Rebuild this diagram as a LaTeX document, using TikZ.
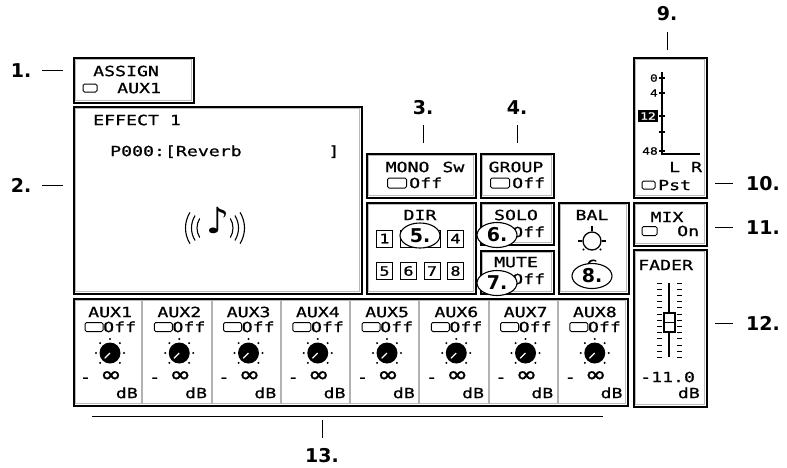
\documentclass[tikz,border=0pt]{standalone}
\usepackage{fontspec}
\usetikzlibrary{shapes.geometric}
\newfontfamily\lcdf[FakeStretch=1.3,FakeBold=0.8]{DejaVu Sans Mono}
\newfontfamily\labf{DejaVu Sans}
\newfontfamily\symf{DejaVu Sans}
\newcommand\lcdbox[5]{\node[box, minimum width=#4pt, minimum height=#5pt] (#1) at (#2,#3) {};}
\newcommand\swq[5]{\node[swq, minimum width=#4pt, minimum height=#5pt] (#1) at (#2,#3) {};}
\begin{document}
\begin{tikzpicture}[x=1pt,y=-1pt,
  box/.style={draw=black, line width=1.6pt, fill=white, anchor=north west, inner sep=0pt,
    path picture={\draw[gray!55, line width=1pt]
      ([shift={(2.1pt,-2.1pt)}]path picture bounding box.north west) rectangle
      ([shift={(-2.1pt,2.1pt)}]path picture bounding box.south east);}},
  txt/.style={font=\lcdf\fontsize{14}{14}\selectfont, inner sep=0pt, text height=10.2pt, text depth=0pt},
  small/.style={font=\lcdf\fontsize{10}{10}\selectfont, inner sep=0pt, text height=7.3pt, text depth=0pt},
  swq/.style={draw=black, line width=1pt, rounded corners=1.5pt, inner sep=0pt},
  numbox/.style={draw=black, line width=1pt, fill=white, minimum width=16pt, minimum height=17pt, inner sep=0pt,
    font=\lcdf\fontsize{13}{13}\selectfont, text height=9.5pt, text depth=0pt},
  lab/.style={font=\labf\bfseries\fontsize{19}{19}\selectfont, inner sep=0pt, text height=14pt, text depth=0pt},
  call/.style={ellipse, draw=black, fill=white, line width=1.1pt, inner sep=0pt, minimum width=40pt, minimum height=25pt,
    font=\labf\bfseries\fontsize{19}{19}\selectfont, text height=13.5pt, text depth=0pt},
  lead/.style={line width=1pt},
  bknob/.style={circle, fill=black, minimum size=21pt, inner sep=0pt},
  wave/.style={line width=1.1pt}
]
\useasboundingbox (0,0) rectangle (787,467);
\fill[white] (0,0) rectangle (787,467);

% ---------- boxes
\lcdbox{assign}{73}{57}{120}{45}
\lcdbox{effect}{73}{106}{288}{187}
\lcdbox{mono}{366}{153}{109}{44}
\lcdbox{group}{480}{153}{73}{44}
\lcdbox{dir}{366}{202}{109}{91}
\lcdbox{solo}{480}{202}{73}{42}
\lcdbox{mute}{480}{250}{73}{43}
\lcdbox{bal}{558}{202}{70}{91}
\lcdbox{meter}{633}{57}{73}{140}
\lcdbox{mix}{633}{202}{73}{43}
\lcdbox{fader}{633}{249}{73}{157}
\lcdbox{auxbox}{73}{298}{554}{107}

% ---------- ASSIGN
\node[txt, anchor=west] (assignt) at (93,71) {ASSIGN};
\swq{assigns}{90}{88}{14}{8}
\node[txt, anchor=west] (assigna) at (117,88) {AUX1};

% ---------- EFFECT
\node[txt, anchor=west] (efft) at (93,120) {EFFECT 1};
\node[txt, anchor=west] (effp) at (110,151) {P000:[Reverb};
\node[txt] (effb) at (334,151) {]};
\node[font=\symf\fontsize{36}{36}\selectfont, inner sep=0pt] (note) at (218,220) {♪};
\coordinate (wc) at (215,228);
\foreach \r in {18,23.5,29.5} {
  \draw[wave] ([shift={(148:\r)}]wc) arc[start angle=148, end angle=212, radius=\r];
  \draw[wave] ([shift={(-32:\r)}]wc) arc[start angle=-32, end angle=32, radius=\r];
}

% ---------- MONO Sw / GROUP
\node[txt] (monot) at (425,167) {MONO\hspace{13pt}Sw};
\swq{monos}{397}{183}{19}{10}
\node[txt, anchor=west] (monoo) at (409,183) {Off};
\node[txt] (groupt) at (516,167) {GROUP};
\swq{groups}{500}{183}{19}{10}
\node[txt, anchor=west] (groupo) at (512,183) {Off};

% ---------- DIR
\node[txt] (dirt) at (420,215) {DIR};
\node[numbox] (d1) at (384.5,238.5) {1};
\node[numbox] (d2) at (408.5,238.5) {2};
\node[numbox] (d3) at (432,238.5) {3};
\node[numbox] (d4) at (455.5,238.5) {4};
\node[numbox] (d5) at (384.5,271) {5};
\node[numbox] (d6) at (408.5,271) {6};
\node[numbox] (d7) at (432,271) {7};
\node[numbox] (d8) at (455.5,271) {8};
\node[call] (c5) at (420,235.5) {5.};

% ---------- SOLO / MUTE
\node[txt] (solot) at (516,215) {SOLO};
\swq{solos}{500}{232}{19}{10}
\node[txt, anchor=west] (soloo) at (512,232) {Off};
\node[call] (c6) at (497,235) {6.};
\node[txt] (mutet) at (516,262) {MUTE};
\swq{mutes}{500}{279}{19}{10}
\node[txt, anchor=west] (muteo) at (512,279) {Off};
\node[call] (c7) at (497,283) {7.};

% ---------- BAL
\node[txt] (balt) at (592,215) {BAL};
\node[circle, draw=black, line width=1.3pt, fill=white, minimum size=18pt, inner sep=0pt] (balk) at (592,241) {};
\draw[line width=1.3pt] (balk.north) -- ++(0,-5);
\draw[line width=1.3pt] (balk.west) -- ++(-4,0);
\draw[line width=1.3pt] (balk.east) -- ++(4,0);
\fill (balk.center) ++(135:12) circle (1.1pt);
\fill (balk.center) ++(45:12) circle (1.1pt);
\node[txt] (balc) at (592,265) {C};
\node[call] (c8) at (592,276) {8.};

% ---------- meter
\draw[line width=1.3pt] (662,72) -- (662,154) -- (700,154);
\foreach \yy in {78,93,116,132,151} \draw[line width=1.1pt] (659,\yy) -- (665,\yy);
\node[small, anchor=east] (m0) at (658,78) {0};
\node[small, anchor=east] (m4) at (658,93) {4};
\node[fill=black, text=white, minimum width=20pt, minimum height=12pt, inner sep=0pt,
      font=\lcdf\fontsize{10}{10}\selectfont] (m12) at (648,116) {12};
\node[small, anchor=east] (m48) at (658,151) {48};
\node[txt, anchor=west] (mlr) at (669,167) {L R};
\swq{psts}{648.5}{185}{13}{8}
\node[txt, anchor=west] (pst) at (658,185) {Pst};

% ---------- MIX
\node[txt] (mixt) at (667,217) {MIX};
\swq{mixs}{649.5}{231}{15}{9}
\node[txt, anchor=west] (mixo) at (677,231) {On};

% ---------- FADER
\node[txt, anchor=west] (fadt) at (638,265) {FADER};
\foreach \k in {0,...,12} {
  \pgfmathsetmacro\yy{283+6.2*\k}
  \draw[line width=1pt] (657,\yy) -- (662,\yy);
  \draw[line width=1pt] (677,\yy) -- (682,\yy);
}
\draw[line width=1.6pt] (669,283) -- (669,357);
\node[draw=black, line width=1.3pt, fill=white, minimum width=11pt, minimum height=19pt, inner sep=0pt] (fcap) at (669.5,322.5) {};
\draw[line width=1pt] (fcap.west) -- (fcap.east);
\node[txt, anchor=west] (fval) at (640,377) {-11.0};
\node[txt, anchor=east] (fdb) at (700,393) {dB};

% ---------- AUX strip
\foreach \i in {1,...,7} \draw[gray!60, line width=2pt] (73+69.25*\i,299.5) -- (73+69.25*\i,403.5);
\foreach \i in {0,...,7} {
  \pgfmathsetmacro\L{73+69.25*\i}
  \pgfmathtruncatemacro\n{\i+1}
  \node[txt, anchor=west] (auxt\n) at (\L+15,312) {AUX\n};
  \swq{auxs\n}{\L+21}{327}{18}{9}
  \node[txt, anchor=west] (auxo\n) at (\L+30,327) {Off};
  \node[bknob] (auxk\n) at (\L+37,353) {};
  \draw[white, line width=1.2pt] (auxk\n.center) -- ++(135:7.5);
  \foreach \a in {0,45,135,180,225,270,315} \fill (auxk\n.center) ++(\a:14) circle (1.1pt);
  \node[txt] (auxm\n) at (\L+12.5,377) {-};
  \node[txt, font=\lcdf\fontsize{22}{22}\selectfont, text height=8pt] (auxi\n) at (\L+38,378) {∞};
  \node[txt, anchor=east] (auxd\n) at (\L+65,393) {dB};
}

% ---------- callout labels
\node[lab] (l1) at (21,70) {1.};
\node[lab] (l2) at (21,185) {2.};
\node[lab] (l3) at (423,107) {3.};
\node[lab] (l4) at (517,107) {4.};
\node[lab] (l9) at (667,13) {9.};
\node[lab] (l10) at (763,183) {10.};
\node[lab] (l11) at (763,227) {11.};
\node[lab] (l12) at (763,323) {12.};
\node[lab] (l13) at (322,455) {13.};

\draw[lead, shorten <=11pt, shorten >=10pt] (l1.east) -- (l1.east -| assign.west);
\draw[lead, shorten <=11pt, shorten >=10pt] (l2.east) -- (l2.east -| effect.west);
\draw[lead, shorten <=11pt, shorten >=10pt] (l3.south) -- (l3.south |- mono.north);
\draw[lead, shorten <=11pt, shorten >=10pt] (l4.south) -- (l4.south |- group.north);
\draw[lead, shorten <=12pt, shorten >=7pt] (l9.south) -- (l9.south |- meter.north);
\draw[lead, shorten <=13pt, shorten >=7pt] (l10.west) -- (l10.west -| meter.east);
\draw[lead, shorten <=13pt, shorten >=7pt] (l11.west) -- (l11.west -| mix.east);
\draw[lead, shorten <=13pt, shorten >=7pt] (l12.west) -- (l12.west -| fader.east);
\coordinate (b13a) at (92,416);
\coordinate (b13b) at (603,416);
\draw[lead] (b13a) -- (b13b);
\draw[lead, shorten <=10pt, shorten >=4pt] (l13.north) -- (l13.north |- b13a);
\end{tikzpicture}
\end{document}
